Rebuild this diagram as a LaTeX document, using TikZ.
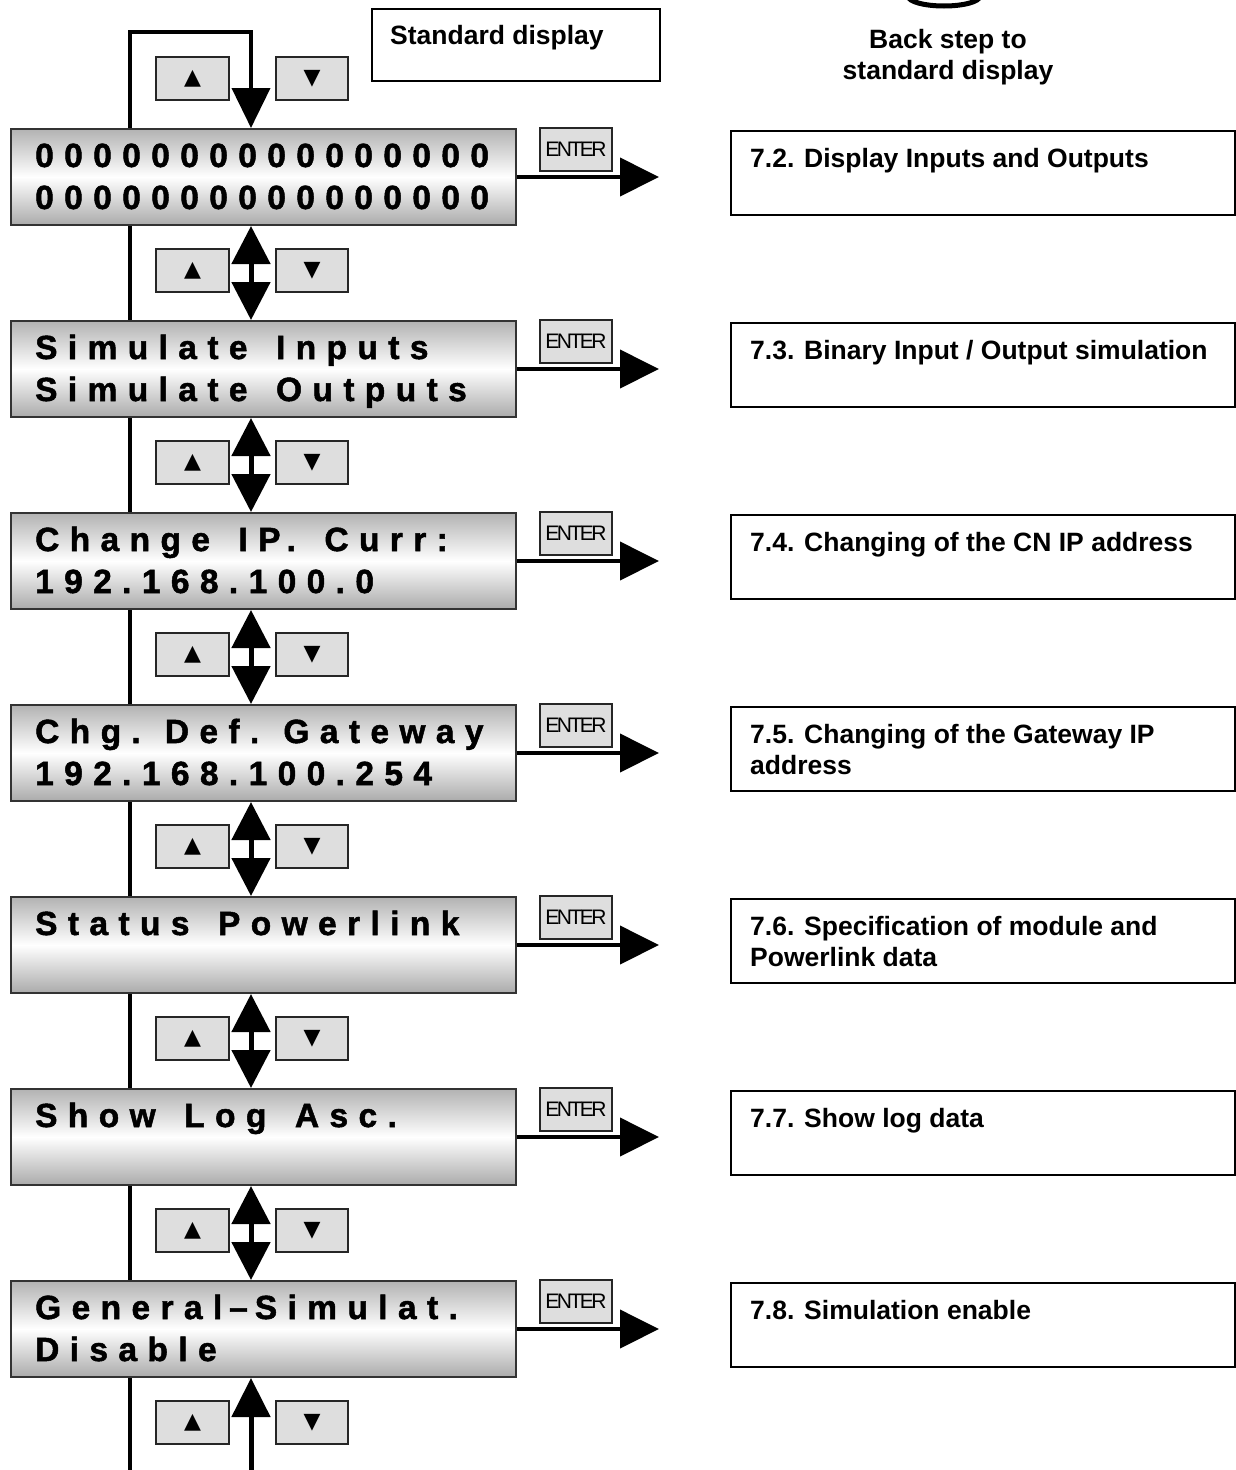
\documentclass[tikz,border=0pt]{standalone}
\usepackage{fontspec}
\setmainfont{Liberation Sans}
\newfontfamily\lcdfont[LetterSpace=31,FakeBold=1.5,WordSpace=1.45]{Liberation Sans}
\newfontfamily\enterfont[LetterSpace=-12]{Liberation Sans}
\newfontfamily\symfont{DejaVu Sans}
\usetikzlibrary{arrows.meta,calc}
\pgfdeclarelayer{rail}
\pgfsetlayers{rail,main}

\begin{document}
\begin{tikzpicture}[x=1pt,y=-1pt,
  lcd/.style={draw=black!80, line width=2pt, top color=gray!60, bottom color=gray!66,
    middle color=white, minimum width=505pt, minimum height=96pt,
    anchor=north west, inner sep=0pt},
  lcdline/.style={anchor=base west, inner sep=0pt,
    font=\lcdfont\bfseries\fontsize{33.5}{40}\selectfont},
  refbox/.style={draw=black, line width=2pt, fill=white, minimum width=504pt,
    minimum height=84pt, anchor=north west, inner sep=0pt},
  reftext/.style={anchor=base west, inner sep=0pt,
    font=\bfseries\fontsize{26.5}{31}\selectfont},
  keybox/.style={draw=black!85, line width=2pt, fill=gray!26, minimum width=73pt,
    minimum height=43pt, anchor=north west, inner sep=0pt,
    font=\symfont\fontsize{22}{22}\selectfont},
  enterkey/.style={keybox, minimum width=72pt,
    font=\enterfont\fontsize{21}{21}\selectfont},
  wire/.style={line width=4pt},
  updown/.style={line width=5pt,
    {Triangle[length=38pt,width=38pt]}-{Triangle[length=38pt,width=38pt]}},
  single/.style={line width=5pt, -{Triangle[length=39pt,width=38pt]}},
  enterflow/.style={line width=4pt, -{Triangle[length=39pt,width=38pt]}}
]
\useasboundingbox (0,0) rectangle (1236,1470);

% reference columns and free ends
\coordinate (ax) at (251,0);
\coordinate (ex) at (659,0);
\coordinate (railtop) at (130,32);
\coordinate (looptop) at (251,32);
\coordinate (railend) at (130,1470);
\coordinate (flowend) at (251,1470);

% back-step symbol and its caption
\begin{scope}
  \clip (0,0) rectangle (1236,1470);
  \draw[line width=5pt] (980,-4) arc[start angle=0, end angle=180, x radius=36, y radius=10];
\end{scope}
\node[anchor=base, inner sep=0pt, font=\bfseries\fontsize{26.5}{31}\selectfont] (back1) at (948,48) {Back step to};
\node[anchor=base, inner sep=0pt, font=\bfseries\fontsize{26.5}{31}\selectfont] (back2) at (948,79) {standard display};

% standard display box
\node[draw=black, line width=2pt, minimum width=288pt, minimum height=72pt,
  anchor=north west, inner sep=0pt] (std) at (371,8) {};
\node[reftext] (stdtext) at (390,44) {Standard display};

% display menu entries
\node[lcd] (d1) at (10,128) {};
\node[lcdline] (d1a) at (35,167) {0000000000000000};
\node[lcdline] (d1b) at (35,209) {0000000000000000};

\node[lcd] (d2) at (10,320) {};
\node[lcdline] (d2a) at (35,359) {Simulate Inputs};
\node[lcdline] (d2b) at (35,401) {Simulate Outputs};

\node[lcd] (d3) at (10,512) {};
\node[lcdline] (d3a) at (35,551) {Change IP. Curr:};
\node[lcdline] (d3b) at (35,593) {192.168.100.0};

\node[lcd] (d4) at (10,704) {};
\node[lcdline] (d4a) at (35,743) {Chg.\kern-11pt{} Def.\kern-11pt{} Gateway};
\node[lcdline] (d4b) at (35,785) {192.168.100.254};

\node[lcd] (d5) at (10,896) {};
\node[lcdline] (d5a) at (35,935) {Status Powerlink};

\node[lcd] (d6) at (10,1088) {};
\node[lcdline] (d6a) at (35,1127) {Show Log Asc.};

\node[lcd] (d7) at (10,1280) {};
\node[lcdline] (d7a) at (35,1319) {General\kern7pt–\kern7pt Simulat.};
\node[lcdline] (d7b) at (35,1361) {Disable};

% chapter references
\node[refbox] (r1) at (730,130) {};
\node[reftext] (r1a) at (750,167) {7.2. Display Inputs and Outputs};
\node[refbox] (r2) at (730,322) {};
\node[reftext] (r2a) at (750,359) {7.3. Binary Input / Output simulation};
\node[refbox] (r3) at (730,514) {};
\node[reftext] (r3a) at (750,551) {7.4. Changing of the CN IP address};
\node[refbox] (r4) at (730,706) {};
\node[reftext] (r4a) at (750,743) {7.5. Changing of the Gateway IP};
\node[reftext] (r4b) at (750,774) {address};
\node[refbox] (r5) at (730,898) {};
\node[reftext] (r5a) at (750,935) {7.6. Specification of module and};
\node[reftext] (r5b) at (750,966) {Powerlink data};
\node[refbox] (r6) at (730,1090) {};
\node[reftext] (r6a) at (750,1127) {7.7. Show log data};
\node[refbox] (r7) at (730,1282) {};
\node[reftext] (r7a) at (750,1319) {7.8. Simulation enable};

% rail on the left, passing behind the displays
\begin{pgfonlayer}{rail}
  \draw[wire, line join=miter, -{Triangle[length=40pt,width=38pt]}]
    (railend) -- (railtop) -- (looptop) -- (d1.north -| ax);
\end{pgfonlayer}

% up/down arrows between the entries
\draw[updown] (d1.south -| ax) -- (d2.north -| ax);
\draw[updown] (d2.south -| ax) -- (d3.north -| ax);
\draw[updown] (d3.south -| ax) -- (d4.north -| ax);
\draw[updown] (d4.south -| ax) -- (d5.north -| ax);
\draw[updown] (d5.south -| ax) -- (d6.north -| ax);
\draw[updown] (d6.south -| ax) -- (d7.north -| ax);
\draw[single] (flowend) -- (d7.south -| ax);

% arrow keys
\foreach \r/\y in {1/56, 2/248, 3/440, 4/632, 5/824, 6/1016, 7/1208, 8/1400} {
  \node[keybox] (up\r) at (155,\y) {▲};
  \node[keybox, minimum width=72pt] (dn\r) at (275,\y) {▼};
}

% ENTER keys and their arrows
\foreach \i/\y in {1/128, 2/320, 3/512, 4/704, 5/896, 6/1088, 7/1280} {
  \node[enterkey] (ent\i) at (539,\y-1) {ENTER};
  \draw[enterflow] (d\i.east) -- (d\i.east -| ex);
}
\end{tikzpicture}
\end{document}
